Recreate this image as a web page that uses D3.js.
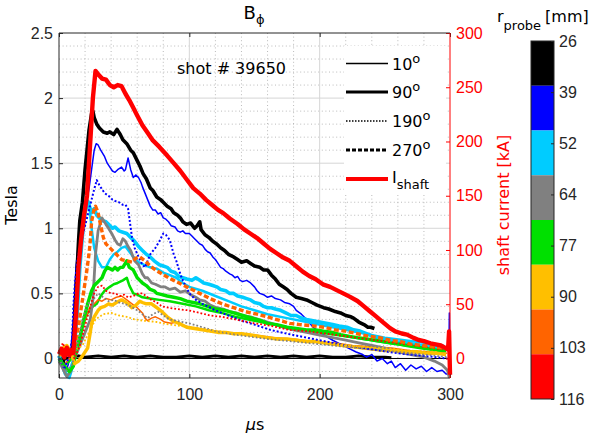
<!DOCTYPE html>
<html>
<head>
<meta charset="utf-8">
<script src="https://cdn.jsdelivr.net/npm/d3@7"></script>
<style>
  body { margin: 0; background: #fff; }
  svg { display: block; font-family: "DejaVu Sans", "Liberation Sans", Arial, sans-serif; }
</style>
</head>
<body>
<svg width="591" height="437"></svg>
<script>
// shaft current, kA (right axis)
var iShaft = [[0,4],[2,9],[4,1],[6,10],[8,3],[10,8],[11,5],[13,40],[15,85],[17,110],[19,130],[21.5,150],[24,200],[26,240],[28,265],[30,262],[33,258],[36,257],[39,252],[42,250],[45,252],[48,251],[51,244],[54,238],[57,231],[60,224],[64,215],[68,208],[72,201],[77,195],[83,187],[88,180],[93,173],[98,165],[103,157],[108,152],[113,146],[118,141],[122,137],[126,134],[131,129],[137,124],[142,119],[147,115],[152,111],[157,106],[162,101],[167,97],[172,93],[177,90],[182,85],[187,80],[192,76],[197,73],[203,68],[208,66],[213,63],[218,60],[223,57],[229,53],[234,48],[238,44],[243,39],[248,34],[254,28],[258,25],[263,23],[267,22],[272,19],[276,17],[280,16],[285,14],[289,13],[293,12],[296,10],[298.5,8],[299.3,25],[300,-15]];

// B_phi probe traces, Tesla (left axis)
var black10 = [[5,0.0],[10,0.01],[15,0.02],[20,0.01],[30,0.02],[40,0.01],[50,0.02],[60,0.01],[70,0.02],[80,0.01],[90,0.01],[100,0.02],[110,0.01],[120,0.02],[130,0.01],[140,0.02],[150,0.01],[160,0.02],[170,0.01],[180,0.02],[190,0.01],[200,0.02],[210,0.01],[220,0.01],[230,0.02],[240,0.01],[250,0.01],[255,0.005]];
var zeroLine = [[0,0],[300,0]];
var blue10 = [[0,0],[3,-0.05],[5,-0.1],[7,-0.05],[9,0.05],[11,0.3],[13,0.7],[15,0.9],[17,1.05],[19,1.1],[21,1.2],[23,1.3],[25,1.45],[27,1.6],[28.5,1.65],[30,1.64],[32,1.6],[35,1.55],[37,1.5],[39,1.47],[41,1.44],[43,1.43],[45,1.45],[48,1.47],[50,1.44],[51,1.45],[53,1.54],[55,1.45],[57,1.39],[59,1.41],[61,1.39],[63,1.35],[64,1.32],[66,1.27],[68,1.22],[70,1.17],[72,1.14],[74,1.14],[76,1.11],[78,1.12],[80,1.08],[82,1.07],[84,1.05],[86,1.02],[89,1.01],[91,0.98],[93,0.97],[95,0.98],[97,0.96],[100,0.96],[102,0.94],[104,0.92],[106,0.9],[108,0.88],[110,0.87],[112,0.84],[114,0.82],[116,0.81],[118,0.78],[120,0.76],[122,0.73],[124,0.7],[126,0.69],[128,0.67],[131,0.65],[133,0.64],[135,0.62],[137,0.63],[139,0.6],[141,0.59],[144,0.6],[147,0.58],[150,0.55],[152,0.52],[154,0.5],[157,0.49],[160,0.47],[163,0.48],[166,0.46],[170,0.45],[173,0.43],[177,0.42],[180,0.4],[182,0.37],[186,0.34],[190,0.3],[195,0.24],[200,0.2],[205,0.17],[210,0.14],[216,0.11],[222,0.08],[228,0.05],[233,0.03],[236,0.01],[240,0.03],[244,-0.02],[248,0.0],[252,-0.04],[255,-0.02],[258,-0.07],[262,-0.04],[266,-0.09],[270,-0.05],[274,-0.08],[278,-0.06],[282,-0.1],[286,-0.07],[290,-0.1],[294,-0.09],[297,-0.12],[299,-0.12],[299.5,0.35],[300,-0.15]];
var cyan10 = [[0,0],[4,-0.1],[8,-0.15],[11,-0.05],[13,0.3],[16,0.8],[19,1.05],[21,1.15],[23,1.2],[25,1.0],[27,0.85],[30,0.75],[33,0.7],[36,0.7],[39,0.76],[42,0.8],[45,0.82],[48,0.85],[51,0.86],[54,0.82],[57,0.78],[61,0.74],[65,0.72],[70,0.7],[75,0.69],[80,0.66],[85,0.64],[90,0.62],[95,0.58],[100,0.55],[110,0.52],[120,0.48],[130,0.44],[140,0.4],[150,0.37],[160,0.34],[175,0.31],[190,0.28],[205,0.25],[220,0.22],[235,0.19],[250,0.16],[265,0.14],[280,0.12],[295,0.1]];
var green10 = [[0,0],[5,-0.05],[10,0.0],[14,0.1],[18,0.25],[22,0.35],[26,0.4],[29,0.42],[32,0.48],[35,0.52],[39,0.55],[42,0.57],[45,0.58],[49,0.6],[52,0.62],[54,0.56],[57,0.5],[60,0.49],[64,0.47],[70,0.46],[77,0.45],[85,0.44],[95,0.42],[105,0.4],[115,0.37],[125,0.35],[135,0.32],[150,0.29],[165,0.26],[180,0.23],[200,0.2],[220,0.17],[240,0.14],[260,0.11],[280,0.08],[297,0.06]];
var orange10 = [[0,0.02],[4,-0.05],[8,0.0],[12,0.05],[16,0.15],[20,0.3],[24,0.4],[27,0.42],[30,0.45],[33,0.44],[36,0.46],[40,0.45],[44,0.47],[48,0.48],[52,0.45],[56,0.42],[60,0.39],[64,0.35],[66,0.31],[68,0.29],[71,0.31],[74,0.32],[78,0.3],[81,0.28],[86,0.27],[90,0.28],[94,0.26],[100,0.24],[106,0.23],[112,0.22],[120,0.21],[130,0.2],[137,0.19],[150,0.18],[165,0.16],[180,0.15],[195,0.13],[210,0.12],[225,0.1],[240,0.09],[255,0.08],[270,0.06],[285,0.05],[298,0.04]];

var black90 = [[0,0.02],[3,-0.03],[6,0.05],[9,0.02],[11,0.1],[13,0.5],[15,0.9],[16,1.06],[18,1.2],[20,1.45],[23,1.75],[25,1.88],[26,1.9],[27,1.85],[29,1.8],[31,1.77],[34,1.74],[37,1.73],[39,1.74],[42,1.72],[44.5,1.76],[47,1.72],[49,1.68],[52,1.65],[55,1.6],[57,1.58],[60,1.52],[62,1.48],[64.5,1.42],[67,1.38],[70,1.31],[72,1.29],[75,1.24],[78,1.22],[80,1.2],[83,1.17],[86,1.15],[88,1.12],[91,1.1],[93,1.08],[95,1.05],[98,1.03],[101,1.04],[104,1.0],[106,1.02],[108,1.05],[109,0.99],[112,0.95],[115,0.93],[118,0.9],[121,0.88],[124,0.85],[127,0.83],[130,0.8],[134,0.78],[137,0.76],[140,0.74],[144,0.75],[147,0.73],[150,0.71],[154,0.7],[157,0.68],[160,0.68],[163,0.64],[166,0.61],[169,0.57],[172,0.55],[175,0.53],[178,0.5],[182,0.47],[186,0.46],[190,0.45],[194,0.43],[198,0.41],[203,0.39],[207,0.38],[212,0.36],[216,0.35],[220,0.33],[224,0.32],[226,0.31],[230,0.28],[234,0.26],[237,0.24],[239,0.24],[242,0.23]];
var cyan90 = [[0,0.02],[3,-0.06],[5,-0.12],[7,-0.14],[9,-0.08],[11,-0.02],[12,0.1],[14,0.35],[16,0.7],[18,0.95],[20,1.12],[22,1.21],[23,1.18],[25,1.12],[27,1.15],[29,1.1],[31,1.08],[33,1.06],[36,1.05],[38,1.03],[41,1.0],[43,1.01],[46,0.98],[49,0.97],[52,0.96],[55,0.93],[58,0.9],[61,0.86],[64,0.83],[67,0.8],[70,0.78],[73,0.75],[77,0.72],[80,0.71],[83,0.7],[86,0.67],[89,0.66],[92,0.63],[95,0.62],[98,0.61],[102,0.6],[105,0.62],[108,0.6],[111,0.58],[115,0.57],[118,0.56],[121,0.55],[124,0.53],[128,0.52],[131,0.5],[134,0.5],[137,0.48],[141,0.47],[144,0.46],[147,0.45],[150,0.43],[154,0.42],[157,0.4],[160,0.39],[163,0.39],[166,0.38],[170,0.37],[174,0.35],[178,0.33],[182,0.33],[186,0.31],[190,0.3],[195,0.29],[200,0.28],[205,0.27],[210,0.26],[215,0.25],[221,0.24],[226,0.22],[231,0.21],[236,0.19],[241,0.17],[246,0.15],[251,0.14],[256,0.13],[261,0.12],[266,0.12],[272,0.11],[277,0.1],[282,0.1],[287,0.09],[292,0.08],[296,0.08]];
var gray90 = [[0,-0.02],[3,-0.08],[6,-0.14],[9,-0.1],[12,0.0],[16,0.1],[20,0.2],[24,0.3],[26,0.45],[28,0.8],[30,0.98],[33,1.08],[36,1.03],[38,1.0],[41,0.95],[43,0.91],[45,0.88],[47,0.87],[49,0.92],[51,0.9],[53,0.86],[55,0.83],[58,0.75],[61,0.72],[64,0.65],[66,0.62],[68,0.62],[71,0.58],[74,0.57],[78,0.55],[81,0.55],[85,0.53],[89,0.54],[93,0.51],[97,0.52],[101,0.49],[105,0.47],[108,0.45],[112,0.44],[116,0.41],[121,0.39],[126,0.38],[131,0.36],[136,0.35],[141,0.33],[147,0.32],[153,0.3],[160,0.28],[166,0.26],[172,0.24],[180,0.22],[190,0.2],[200,0.18],[210,0.16],[220,0.14],[230,0.12],[240,0.1],[250,0.08],[260,0.05],[270,0.03],[280,0.01],[288,-0.02],[294,-0.05],[298,-0.09],[299.5,-0.15]];
var green90 = [[0,0],[4,-0.06],[8,-0.1],[11,-0.06],[13,0.05],[16,0.15],[19,0.3],[22,0.42],[25,0.52],[27,0.56],[29,0.58],[31,0.6],[33,0.62],[35,0.67],[37,0.7],[39,0.69],[41,0.68],[43,0.7],[45,0.68],[47,0.7],[49,0.7],[52,0.75],[54,0.7],[57,0.68],[60,0.62],[62,0.6],[64,0.58],[67,0.56],[70,0.53],[73,0.52],[75,0.5],[79,0.49],[83,0.48],[88,0.47],[93,0.46],[98,0.44],[103,0.43],[108,0.42],[114,0.4],[120,0.38],[127,0.37],[134,0.35],[141,0.33],[148,0.31],[155,0.29],[160,0.27],[167,0.26],[175,0.24],[182,0.23],[190,0.22],[197,0.22],[203,0.21],[210,0.2],[217,0.18],[223,0.17],[229,0.16],[236,0.15],[242,0.14],[248,0.13],[254,0.12],[261,0.11],[267,0.1],[273,0.09],[279,0.08],[286,0.07],[292,0.06],[297,0.06]];
var yellow90 = [[0,0.05],[3,0.08],[6,0.1],[9,0.05],[12,-0.04],[15,-0.02],[18,0.02],[22,0.08],[24,0.2],[25,0.27],[27,0.32],[30,0.37],[32,0.39],[35,0.4],[38,0.42],[41,0.41],[44,0.43],[48,0.45],[50,0.44],[53,0.42],[56,0.39],[59,0.41],[62,0.44],[64,0.43],[67,0.42],[71,0.42],[75,0.39],[79,0.36],[83,0.32],[87,0.29],[92,0.27],[98,0.24],[104,0.23],[110,0.22],[116,0.21],[122,0.2],[128,0.2],[134,0.19],[140,0.19],[147,0.18],[154,0.17],[160,0.16],[168,0.15],[175,0.15],[182,0.14],[190,0.13],[197,0.13],[203,0.12],[210,0.11],[218,0.1],[226,0.09],[234,0.08],[242,0.07],[250,0.06],[258,0.06],[266,0.05],[274,0.05],[282,0.04],[290,0.04],[297,0.03]];

var blue190 = [[0,0],[4,-0.08],[8,0.02],[10,0.15],[11,0.4],[12,0.55],[14,0.75],[16,0.85],[19,0.98],[22,1.1],[25,1.22],[27,1.3],[29,1.37],[31,1.33],[33,1.3],[35,1.27],[38,1.25],[41,1.22],[43,1.21],[46,1.2],[49,1.18],[51,1.18],[53,1.15],[56,0.93],[58,0.85],[61,0.78],[64,0.72],[66,0.7],[70,0.8],[74,0.85],[77,0.9],[80,0.96],[82,0.95],[85,0.91],[88,0.8],[90,0.75],[93,0.65],[95,0.6],[98,0.54],[100,0.5],[105,0.45],[110,0.42],[120,0.37],[130,0.33],[140,0.29],[150,0.26],[162,0.22],[175,0.19],[190,0.16],[205,0.13],[220,0.1],[240,0.07],[260,0.04],[280,0.02],[298,0.0]];
var gray190 = [[0,0],[5,-0.1],[10,-0.05],[14,0.1],[18,0.3],[22,0.42],[26,0.45],[30,0.5],[34,0.47],[38,0.44],[42,0.45],[46,0.43],[50,0.42],[55,0.4],[60,0.37],[64,0.34],[68,0.31],[72,0.34],[76,0.36],[80,0.33],[85,0.3],[90,0.29],[95,0.28],[100,0.27],[110,0.24],[120,0.21],[131,0.19],[145,0.17],[160,0.15],[180,0.13],[200,0.11],[220,0.09],[240,0.07],[260,0.05],[280,0.03],[298,0.01]];
var yellow190 = [[0,0.02],[10,0.05],[18,0.1],[24,0.22],[28,0.3],[34,0.34],[40,0.35],[46,0.33],[52,0.32],[58,0.3],[65,0.29],[75,0.28],[85,0.26],[100,0.24],[115,0.22],[130,0.2],[150,0.17],[170,0.15],[190,0.13],[210,0.11],[230,0.09],[250,0.08],[270,0.06],[290,0.05]];
var red190 = [[0,0.05],[3,0.12],[6,0.02],[9,0.08],[12,0.0],[16,0.1],[20,0.25],[24,0.4],[27,0.5],[30,0.55],[33,0.56],[36,0.52],[40,0.5],[43,0.5],[47,0.48],[50,0.49],[53,0.47],[57,0.48],[61,0.5],[64,0.5],[68,0.47],[71,0.45],[75,0.43],[79,0.4],[84,0.39],[90,0.38],[99,0.37],[108,0.35],[116,0.33],[125,0.32],[135,0.3],[150,0.27],[163,0.25],[176,0.22],[190,0.21],[205,0.19],[220,0.17],[235,0.15],[250,0.13],[265,0.11],[280,0.09],[295,0.07]];

var orange270 = [[0,0.05],[3,0.02],[6,0.08],[9,0.03],[12,0.1],[15,0.25],[18,0.45],[21,0.65],[23,0.8],[24,0.9],[25,1.05],[27,1.15],[28,1.17],[30,1.12],[32,1.02],[34,0.93],[36,0.88],[40,0.84],[44,0.8],[48,0.76],[52,0.75],[56,0.74],[59,0.77],[62,0.78],[66,0.75],[70,0.71],[74,0.68],[79,0.65],[84,0.62],[88,0.6],[94,0.57],[100,0.54],[108,0.5],[116,0.46],[125,0.42],[134,0.39],[143,0.36],[152,0.34],[160,0.32],[170,0.29],[177,0.27],[185,0.26],[195,0.25],[203,0.24],[212,0.22],[220,0.21],[229,0.19],[238,0.17],[246,0.16],[254,0.14],[262,0.13],[270,0.11],[279,0.1],[287,0.09],[295,0.08]];

var radii = ["26", "39", "52", "64", "77", "90", "103", "116"];
var probeColors = ["#000000", "#0000ff", "#00ccff", "#808080", "#00e000", "#ffbf00", "#ff6400", "#ff0000"];
var leftTicks = [0, 0.5, 1, 1.5, 2, 2.5];
var rightTicks = [0, 50, 100, 150, 200, 250, 300];
var xTicks = [0, 100, 200, 300];
var legendLabels = ["10", "90", "190", "270"];

var svg = d3.select("svg"),
    X0 = 59, X1 = 450, Y0 = 33, Y1 = 378,
    axisColor = "#262626",
    fontSize = 16;

var x = d3.scaleLinear().domain([0, 300]).range([X0, X1]),
    y = d3.scaleLinear().domain([-0.15, 2.5]).range([Y1, Y0]),
    yR = d3.scaleLinear().domain([-18, 300]).range([Y1, Y0]);

// grid: minor dotted then major solid
var grid = svg.append("g");
d3.range(20, 300, 20).filter(function(d) { return d % 100 != 0; }).forEach(function(d) {
  grid.append("line").attr("x1", x(d)).attr("x2", x(d)).attr("y1", Y0).attr("y2", Y1)
    .attr("stroke", "#aaaaaa").attr("stroke-width", 0.8).attr("stroke-dasharray", "1,2.6");
});
d3.range(-1, 25).map(function(d) { return d / 10; }).filter(function(d) { return Math.round(d * 10) % 5 != 0; }).forEach(function(d) {
  grid.append("line").attr("x1", X0).attr("x2", X1).attr("y1", y(d)).attr("y2", y(d))
    .attr("stroke", "#aaaaaa").attr("stroke-width", 0.8).attr("stroke-dasharray", "1,2.6");
});
[100, 200].forEach(function(d) {
  grid.append("line").attr("x1", x(d)).attr("x2", x(d)).attr("y1", Y0).attr("y2", Y1)
    .attr("stroke", "#d6d6d6").attr("stroke-width", 1);
});
[0, 0.5, 1, 1.5, 2].forEach(function(d) {
  grid.append("line").attr("x1", X0).attr("x2", X1).attr("y1", y(d)).attr("y2", y(d))
    .attr("stroke", "#d6d6d6").attr("stroke-width", 1);
});

// traces, drawn by angle group like the original plot loop
var traces = [
  {d: zeroLine, c: "#000000", w: 1},
  {d: black10, c: "#000000", w: 3},
  {d: blue10, c: probeColors[1], w: 1.5},
  {d: cyan10, c: probeColors[2], w: 2.5},
  {d: green10, c: probeColors[4], w: 2.5},
  {d: orange10, c: probeColors[6], w: 1.5},
  {d: black90, c: probeColors[0], w: 3.6},
  {d: cyan90, c: probeColors[2], w: 3.6},
  {d: gray90, c: probeColors[3], w: 2.8},
  {d: green90, c: probeColors[4], w: 3.4},
  {d: yellow90, c: probeColors[5], w: 3.4},
  {d: blue190, c: probeColors[1], w: 2, dash: "2,2"},
  {d: gray190, c: probeColors[3], w: 1.8, dash: "1.8,2"},
  {d: yellow190, c: probeColors[5], w: 1.8, dash: "1.8,2"},
  {d: red190, c: probeColors[7], w: 1.8, dash: "1.8,2"},
  {d: orange270, c: probeColors[6], w: 3.4, dash: "5,2.5"}
];

var line = d3.line().x(function(d) { return x(d[0]); }).y(function(d) { return y(d[1]); });
var lineR = d3.line().x(function(d) { return x(d[0]); }).y(function(d) { return yR(d[1]); });

var plot = svg.append("g");
traces.forEach(function(t) {
  plot.append("path").attr("d", line(t.d)).attr("fill", "none")
    .attr("stroke", t.c).attr("stroke-width", t.w)
    .attr("stroke-dasharray", t.dash || null).attr("stroke-linejoin", "round");
});
plot.append("path").attr("d", lineR(iShaft)).attr("fill", "none")
  .attr("stroke", "#ff0000").attr("stroke-width", 4.4).attr("stroke-linejoin", "round");

// axes
function styleAxis(g, color) {
  g.select(".domain").remove();
  g.selectAll("line").attr("stroke", color);
  g.selectAll("text").attr("fill", color).attr("font-size", fontSize).attr("font-family", null);
}
svg.append("g").attr("transform", "translate(" + X0 + ",0)")
  .call(d3.axisLeft(y).tickValues(leftTicks).tickSize(-4).tickPadding(6).tickFormat(String))
  .call(styleAxis, axisColor);
svg.append("g").attr("transform", "translate(0," + Y1 + ")")
  .call(d3.axisBottom(x).tickValues(xTicks).tickSize(-4).tickPadding(11).tickFormat(String))
  .call(styleAxis, axisColor);
svg.append("g").attr("transform", "translate(0," + Y0 + ")")
  .call(d3.axisTop(x).tickValues(xTicks).tickSize(-4).tickFormat(""))
  .call(styleAxis, axisColor);
svg.append("g").attr("transform", "translate(" + X1 + ",0)")
  .call(d3.axisRight(yR).tickValues(rightTicks).tickSize(-4).tickPadding(6).tickFormat(String))
  .call(styleAxis, "#ff0000");

svg.append("path").attr("d", "M" + X1 + "," + Y0 + "H" + X0 + "V" + Y1 + "H" + X1)
  .attr("fill", "none").attr("stroke", axisColor).attr("stroke-width", 1);
svg.append("line").attr("x1", X1).attr("x2", X1).attr("y1", Y0).attr("y2", Y1)
  .attr("stroke", "#ff0000").attr("stroke-width", 1);

// texts
var title = svg.append("text").attr("x", 254).attr("y", 19).attr("text-anchor", "middle")
  .attr("font-size", 18).attr("fill", "#000");
title.append("tspan").text("B");
title.append("tspan").attr("dy", 5).attr("font-size", 13).text("\u03D5");

svg.append("text").attr("transform", "translate(17,205) rotate(-90)").attr("text-anchor", "middle")
  .attr("font-size", fontSize).attr("fill", "#000").text("Tesla");
svg.append("text").attr("transform", "translate(509,205) rotate(-90)").attr("text-anchor", "middle")
  .attr("font-size", fontSize).attr("fill", "#ff0000").text("shaft current [kA]");
var xl = svg.append("text").attr("x", 255).attr("y", 430).attr("text-anchor", "middle")
  .attr("font-size", fontSize).attr("fill", "#000");
xl.append("tspan").attr("font-style", "italic").text("\u03BC");
xl.append("tspan").text("s");

svg.append("text").attr("x", 177).attr("y", 74).attr("font-size", fontSize).attr("fill", "#000")
  .text("shot # 39650");

// legend
var lg = svg.append("g");
lg.append("rect").attr("x", 344).attr("y", 46).attr("width", 102).attr("height", 148).attr("fill", "#fff");
var legendStyles = [
  {w: 1.3, dash: null, c: "#000"},
  {w: 3, dash: null, c: "#000"},
  {w: 1.5, dash: "1.5,1.5", c: "#000"},
  {w: 3, dash: "4,2", c: "#000"},
  {w: 4, dash: null, c: "#ff0000"}
];
var rowY = [63.5, 92, 121, 150, 179];
legendStyles.forEach(function(s, i) {
  lg.append("line").attr("x1", 346).attr("x2", 388).attr("y1", rowY[i]).attr("y2", rowY[i])
    .attr("stroke", s.c).attr("stroke-width", s.w).attr("stroke-dasharray", s.dash);
});
legendLabels.forEach(function(l, i) {
  var t = lg.append("text").attr("x", 392).attr("y", rowY[i] + 6).attr("font-size", fontSize).attr("fill", "#000");
  t.append("tspan").text(l);
  t.append("tspan").attr("dy", -7).attr("font-size", 13).text("o");
});
var ls = lg.append("text").attr("x", 392).attr("y", rowY[4] + 4).attr("font-size", fontSize).attr("fill", "#000");
ls.append("tspan").text("I");
ls.append("tspan").attr("dy", 6).attr("font-size", 13).text("shaft");

// colorbar
var cbX = 531, cbW = 23, cbTop = 41, cbBot = 399;
var cbBand = d3.scaleBand().domain(radii).range([cbTop, cbBot]);
var cbTick = d3.scalePoint().domain(radii).range([cbTop, cbBot]);
svg.append("g").selectAll("rect").data(radii).join("rect")
  .attr("x", cbX).attr("y", function(d) { return cbBand(d); })
  .attr("width", cbW).attr("height", cbBand.bandwidth())
  .attr("fill", function(d, i) { return probeColors[i]; });
svg.append("rect").attr("x", cbX).attr("y", cbTop).attr("width", cbW).attr("height", cbBot - cbTop)
  .attr("fill", "none").attr("stroke", axisColor).attr("stroke-width", 1);
svg.append("g").attr("transform", "translate(" + (cbX + cbW) + ",0)")
  .call(d3.axisRight(cbTick).tickSize(-3).tickPadding(5))
  .call(styleAxis, axisColor);

var cbt = svg.append("text").attr("x", 497).attr("y", 22).attr("font-size", fontSize).attr("fill", "#000");
cbt.append("tspan").text("r");
cbt.append("tspan").attr("dy", 8).attr("font-size", 13).text("probe");
cbt.append("tspan").attr("dy", -8).attr("dx", 4).text("[mm]");
</script>
</body>
</html>
